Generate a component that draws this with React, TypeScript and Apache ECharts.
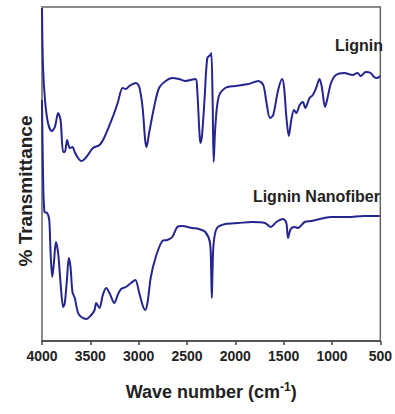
import React, { useEffect, useRef } from "react";
import * as echarts from "echarts";

const ligninWave = [4000, 3990, 3969, 3938, 3900, 3867, 3833, 3808, 3781, 3764, 3740, 3713, 3685, 3661, 3627, 3593, 3541, 3473, 3405, 3353, 3268, 3217, 3166, 3131, 3097, 3028, 2994, 2960, 2933, 2919, 2892, 2840, 2789, 2720, 2652, 2584, 2515, 2412, 2396, 2371, 2361, 2344, 2317, 2290, 2258, 2248, 2235, 2224, 2207, 2173, 2104, 2002, 1865, 1762, 1711, 1677, 1642, 1608, 1557, 1516, 1496, 1472, 1447, 1421, 1393, 1369, 1334, 1301, 1277, 1232, 1198, 1164, 1129, 1105, 1072, 1044, 1010, 959, 873, 787, 736, 702, 651, 600, 565, 531, 503];
const ligninT = [333, 276, 241, 218, 210, 214, 228, 221, 189, 189, 201, 193, 194, 189, 183, 180, 184, 193, 196, 204, 224, 238, 253, 252, 255, 258, 254, 234, 201, 194, 208, 234, 253, 260, 263, 262, 260, 262, 254, 208, 198, 206, 244, 283, 286, 288, 241, 179, 214, 244, 253, 255, 257, 260, 256, 238, 223, 226, 251, 262, 254, 224, 205, 221, 231, 228, 236, 239, 233, 243, 246, 253, 262, 254, 234, 244, 258, 266, 268, 266, 268, 265, 269, 268, 264, 263, 265];

const nanoWave = [4000, 3990, 3975, 3946, 3925, 3911, 3894, 3877, 3856, 3833, 3808, 3781, 3764, 3740, 3723, 3705, 3685, 3661, 3627, 3593, 3541, 3490, 3456, 3439, 3405, 3371, 3336, 3302, 3251, 3217, 3182, 3131, 3079, 3035, 2994, 2960, 2933, 2909, 2874, 2823, 2755, 2704, 2652, 2601, 2550, 2447, 2378, 2310, 2262, 2250, 2243, 2236, 2224, 2190, 2104, 1968, 1831, 1694, 1633, 1575, 1506, 1472, 1455, 1427, 1386, 1352, 1283, 1215, 1078, 1010, 839, 667, 505];
const nanoT = [241, 171, 129, 128, 121, 88, 64, 78, 99, 88, 58, 34, 38, 64, 83, 74, 49, 43, 28, 24, 22, 26, 31, 38, 33, 46, 53, 48, 38, 46, 52, 54, 58, 61, 48, 36, 31, 38, 64, 84, 100, 101, 104, 114, 115, 113, 112, 109, 98, 70, 43, 70, 98, 113, 117, 118, 119, 118, 114, 119, 122, 118, 103, 112, 114, 113, 119, 120, 123, 124, 124, 125, 125];

const seriesNames = ["Lignin", "Lignin Nanofiber"];

export default function App() {
  const ref = useRef<HTMLDivElement>(null);
  useEffect(() => {
    if (!ref.current) return;
    const chart = echarts.init(ref.current, null, { renderer: "svg" });
    const font = "Liberation Sans, Arial, sans-serif";
    const lineColor = "#25258f";
    chart.setOption({
      animation: false,
      grid: { left: 42, right: 12, top: 7, bottom: 73, show: true, borderColor: "#666", borderWidth: 1.5, backgroundColor: "transparent" },
      xAxis: {
        type: "value",
        inverse: true,
        min: 500,
        max: 4000,
        interval: 500,
        axisLine: { show: true, lineStyle: { color: "#444", width: 1.5 } },
        axisTick: { show: true, inside: false, length: 4, lineStyle: { color: "#444", width: 1.5 } },
        axisLabel: { color: "#222", fontFamily: font, fontWeight: "bold", fontSize: 14, margin: 8, formatter: (v: number) => String(v) },
        splitLine: { show: false },
        name: "{a|Wave number (cm}{s|-1}{a|)}",
        nameLocation: "middle",
        nameGap: 40,
        nameTextStyle: {
          rich: {
            a: { fontFamily: font, fontWeight: "bold", fontSize: 18, color: "#222" },
            s: { fontFamily: font, fontWeight: "bold", fontSize: 12, color: "#222", padding: [0, 0, 10, 0] },
          },
        },
      },
      yAxis: {
        type: "value",
        min: 0,
        max: 334,
        axisLine: { show: true, lineStyle: { color: "#888", width: 1.5 } },
        axisTick: { show: false },
        axisLabel: { show: false },
        splitLine: { show: false },
      },
      graphic: [
        {
          type: "text",
          x: 25,
          y: 191,
          rotation: Math.PI / 2,
          style: { text: "% Transmittance", font: `bold 19px ${font}`, fill: "#222", align: "center", verticalAlign: "middle" },
        },
        {
          type: "text",
          x: 383,
          y: 45,
          style: { text: seriesNames[0], font: `bold 16px ${font}`, fill: "#222", align: "right", verticalAlign: "middle" },
        },
        {
          type: "text",
          x: 380,
          y: 196,
          style: { text: seriesNames[1], font: `bold 16px ${font}`, fill: "#222", align: "right", verticalAlign: "middle" },
        },
      ],
      series: [
        {
          name: seriesNames[0],
          type: "line",
          data: ligninWave.map((w, i) => [w, ligninT[i]]),
          showSymbol: false,
          smooth: 0.3,
          lineStyle: { color: lineColor, width: 2 },
        },
        {
          name: seriesNames[1],
          type: "line",
          data: nanoWave.map((w, i) => [w, nanoT[i]]),
          showSymbol: false,
          smooth: 0.3,
          lineStyle: { color: lineColor, width: 2 },
        },
      ],
    });
    return () => chart.dispose();
  }, []);
  return <div ref={ref} style={{ width: 395, height: 414, position: "absolute", left: 0, top: 0 }} />;
}
